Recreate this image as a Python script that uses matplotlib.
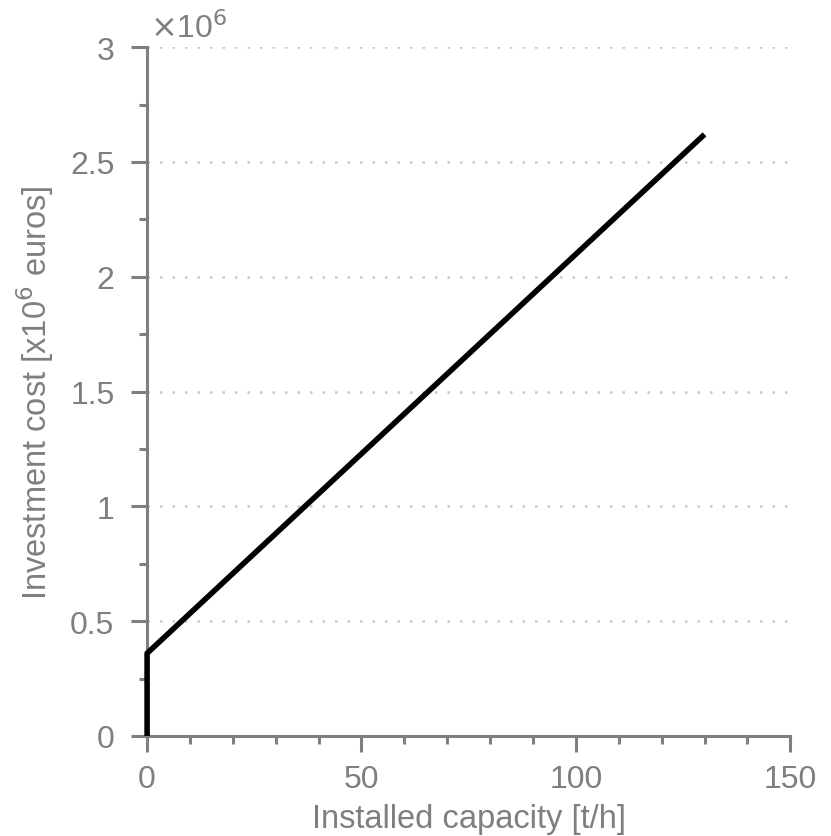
import matplotlib.pyplot as plt
from matplotlib.ticker import MultipleLocator, FuncFormatter
from matplotlib.transforms import offset_copy

# Investment cost curve: fixed cost jump at zero, then linear
capacity = [0, 0, 130]            # t/h
cost = [0, 0.36e6, 2.62e6]        # euros

gray = '#7f7f7f'
plt.rcParams['font.family'] = ['Liberation Sans', 'DejaVu Sans']

fig = plt.figure(figsize=(8.31, 8.37), dpi=100)
ax = fig.add_axes([0.177, 0.1195, 0.774, 0.823])

ax.plot(capacity, cost, color='black', linewidth=4, solid_capstyle='butt',
        clip_on=False, zorder=5)

ax.set_xlim(0, 150)
ax.set_ylim(0, 3e6)
ax.xaxis.set_major_locator(MultipleLocator(50))
ax.xaxis.set_minor_locator(MultipleLocator(10))
ax.yaxis.set_major_locator(MultipleLocator(0.5e6))
ax.yaxis.set_minor_locator(MultipleLocator(0.25e6))
ax.yaxis.set_major_formatter(FuncFormatter(lambda v, p: '%g' % (v / 1e6)))

ax.grid(True, axis='y', which='major', linestyle=(0, (1, 4)), color='#c8c8c8', linewidth=1.8)
ax.set_axisbelow(True)

for s in ['top', 'right']:
    ax.spines[s].set_visible(False)
for s in ['left', 'bottom']:
    ax.spines[s].set_color(gray)
    ax.spines[s].set_linewidth(2.2)

ax.tick_params(which='major', direction='out', length=11.5, width=2.2, color=gray,
               labelcolor=gray, labelsize=23)
ax.tick_params(axis='x', which='major', pad=9)
ax.tick_params(axis='y', which='major', pad=12)
ax.tick_params(which='minor', direction='out', length=6, width=2.2, color=gray)

ax.set_xlabel('Installed capacity [t/h]', color=gray, fontsize=23.5, labelpad=6.5)
ax.set_ylabel('Investment cost [x10$^6$ euros]', color=gray, fontsize=23.5, labelpad=10)

# scale factor label above the y axis
trans = offset_copy(ax.transAxes, fig=fig, x=2, y=7, units='points')
ax.text(0.0, 1.0, r'$\times$10$^6$', transform=trans, color=gray,
        fontsize=23, ha='left', va='baseline')

plt.savefig('out.png', dpi=100)
